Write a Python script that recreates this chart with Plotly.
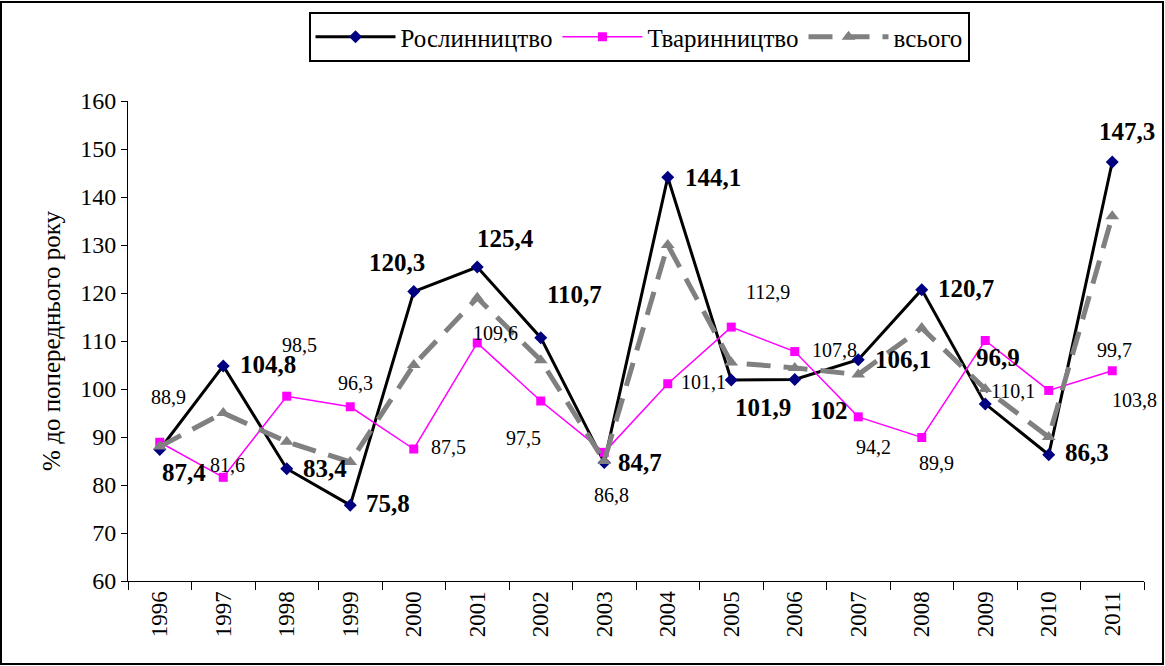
import plotly.graph_objects as go

years = ["1996", "1997", "1998", "1999", "2000", "2001", "2002", "2003",
         "2004", "2005", "2006", "2007", "2008", "2009", "2010", "2011"]
crop = [87.4, 104.8, 83.4, 75.8, 120.3, 125.4, 110.7, 84.7,
        144.1, 101.9, 102.0, 106.1, 120.7, 96.9, 86.3, 147.3]
livestock = [88.9, 81.6, 98.5, 96.3, 87.5, 109.6, 97.5, 86.8,
             101.1, 112.9, 107.8, 94.2, 89.9, 110.1, 99.7, 103.8]
total = [88.0, 95.0, 89.0, 84.8, 105.0, 119.0, 106.0, 85.0,
         130.0, 105.5, 104.4, 103.0, 112.7, 100.0, 90.0, 136.0]

def fmt(v):
    s = f"{v:.1f}".replace(".", ",")
    return s[:-2] if s.endswith(",0") else s

# label offsets (pixels) - styling only
crop_dx = [24, 45, 38, 38, -17, 28, 34, 36, 45, 32, 34, 45, 44, 13, 38, 15]
crop_dy = [-23, 1, 0, 2, 29, 29, 43, 0, 0, -28, -31, 0, 1, 46, 2, 30]
liv_dx = [9, 4, 13, 5, 35, 18, -17, 7, 36, 37, 40, 15, 15, 28, 66, 22]
liv_dy = [45, 12, 51, 24, 2, 10, -37, -43, 2, 35, 2, -30, -26, -50, 40, -29]

FONT = "Liberation Serif, Times New Roman, serif"

fig = go.Figure()
fig.add_trace(go.Scatter(
    x=years, y=crop, name="Рослинництво", mode="lines+markers",
    line=dict(color="black", width=3),
    marker=dict(symbol="diamond", size=10, color="#000080"),
))
fig.add_trace(go.Scatter(
    x=years, y=livestock, name="Тваринництво", mode="lines+markers",
    line=dict(color="#FF00FF", width=1.5),
    marker=dict(symbol="square", size=9, color="#FF00FF"),
))
fig.add_trace(go.Scatter(
    x=years, y=total, name="всього", mode="lines+markers",
    line=dict(color="#808080", width=5, dash="24px,13px"),
    marker=dict(symbol="triangle-up", size=12, color="#808080"),
))

annotations = []
for i in range(len(years)):
    annotations.append(dict(
        x=i, y=crop[i], text=fmt(crop[i]), showarrow=False,
        xshift=crop_dx[i], yshift=crop_dy[i],
        font=dict(family=FONT, size=25, color="black", weight="bold"),
    ))
    annotations.append(dict(
        x=i, y=livestock[i], text=fmt(livestock[i]), showarrow=False,
        xshift=liv_dx[i], yshift=liv_dy[i],
        font=dict(family=FONT, size=20, color="black"),
    ))

W, H = 1165, 666
ml, mr, mt, mb = 128, 21, 101, 85
pw, ph = W - ml - mr, H - mt - mb

fig.update_layout(
    width=W, height=H,
    margin=dict(l=ml, r=mr, t=mt, b=mb),
    paper_bgcolor="white", plot_bgcolor="white",
    font=dict(family=FONT, size=18, color="black"),
    showlegend=True,
    legend=dict(
        orientation="h", x=(639 - ml) / pw, xanchor="center",
        y=(H - mb - 12) / ph, yanchor="top",
        bordercolor="black", borderwidth=2, bgcolor="white",
        font=dict(family=FONT, size=25, color="black"),
        tracegroupgap=0, itemwidth=80,
    ),
    xaxis=dict(
        type="category", range=[-0.5, len(years) - 0.5], automargin=False,
        tickson="boundaries", ticks="outside", ticklen=8,
        tickwidth=1, tickcolor="black", showline=True, linecolor="black",
        linewidth=1, showgrid=False, tickangle=-90, zeroline=False,
        tickfont=dict(family=FONT, size=23, color="black"),
    ),
    yaxis=dict(
        range=[60, 160], dtick=10, ticks="outside", ticklen=6, tickwidth=1,
        tickcolor="black", showline=True, linecolor="black", linewidth=1,
        showgrid=False, zeroline=False, automargin=False,
        tickfont=dict(family=FONT, size=24, color="black"),
        title=dict(text="% до попереднього року",
                   font=dict(family=FONT, size=25, color="black"), standoff=12),
    ),
    annotations=annotations,
    shapes=[dict(
        type="rect", xref="paper", yref="paper",
        x0=(1 - ml) / pw, x1=(W - 2 - ml) / pw,
        y0=-(mb - 2) / ph, y1=(H - 2 - mb) / ph,
        line=dict(color="black", width=2), layer="above",
    )],
)

fig.write_html(
    "out.html",
    config={"displayModeBar": False},
    post_script="document.body.style.margin='0';document.body.style.overflow='hidden';",
)
